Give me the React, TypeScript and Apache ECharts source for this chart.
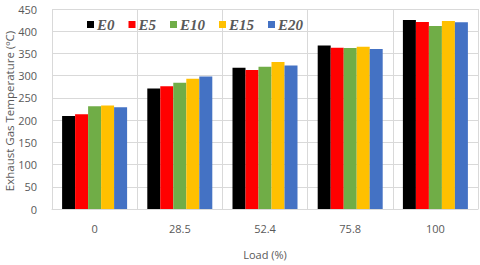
import React, { useEffect, useRef } from "react";
import * as echarts from "echarts";

const categories = ["0", "28.5", "52.4", "75.8", "100"];
const seriesNames = ["E0", "E5", "E10", "E15", "E20"];
const colors = ["#000000", "#ff0000", "#70ad47", "#ffc000", "#4472c4"];
const e0 = [209, 271, 318, 368, 425];
const e5 = [213, 276, 313, 363, 421];
const e10 = [231, 284, 320, 362, 412];
const e15 = [233, 293, 331, 365, 423];
const e20 = [229, 298, 323, 360, 420];
const allValues = [e0, e5, e10, e15, e20];

export default function App() {
  const ref = useRef<HTMLDivElement>(null);
  useEffect(() => {
    if (!ref.current) return;
    const chart = echarts.init(ref.current, undefined, { renderer: "svg" });
    chart.setOption({
      animation: false,
      backgroundColor: "#ffffff",
      grid: { left: 52, right: 2, top: 9, bottom: 52 },
      legend: {
        data: seriesNames,
        left: 82,
        top: 12,
        icon: "rect",
        itemWidth: 7,
        itemHeight: 7,
        itemGap: 14,
        textStyle: {
          fontFamily: "Liberation Serif",
          fontStyle: "italic",
          fontWeight: "bold",
          fontSize: 15,
          color: "#595959",
          padding: [0, 0, 0, -2],
        },
      },
      xAxis: {
        type: "category",
        data: categories,
        name: "Load (%)",
        nameLocation: "middle",
        nameGap: 40,
        nameTextStyle: { fontFamily: "Open Sans", fontSize: 11, color: "#595959" },
        axisLine: { show: true, lineStyle: { color: "#d9d9d9" } },
        axisTick: { show: false },
        axisLabel: { fontFamily: "Open Sans", fontSize: 11, color: "#595959", margin: 14 },
        splitLine: { show: true, lineStyle: { color: "#d9d9d9" } },
      },
      yAxis: {
        type: "value",
        min: 0,
        max: 450,
        interval: 50,
        axisLine: { show: false },
        axisTick: { show: false },
        axisLabel: { fontFamily: "Open Sans", fontSize: 11, color: "#595959", margin: 15 },
        splitLine: { show: true, lineStyle: { color: "#d9d9d9" } },
      },
      graphic: [
        {
          type: "text",
          x: 3,
          y: 111,
          rotation: Math.PI / 2,
          style: {
            text: "Exhaust Gas Temperature (\u00baC)",
            fontFamily: "Open Sans",
            fontSize: 11.5,
            fill: "#595959",
            align: "center",
            verticalAlign: "top",
          },
        },
      ],
      series: seriesNames.map((n, i) => ({
        name: n,
        type: "bar",
        data: allValues[i],
        barWidth: 13,
        barGap: "0%",
        itemStyle: { color: colors[i] },
      })),
    });
    return () => chart.dispose();
  }, []);
  return (
    <div
      ref={ref}
      style={{ position: "fixed", left: 0, top: 0, width: 480, height: 265 }}
    />
  );
}
